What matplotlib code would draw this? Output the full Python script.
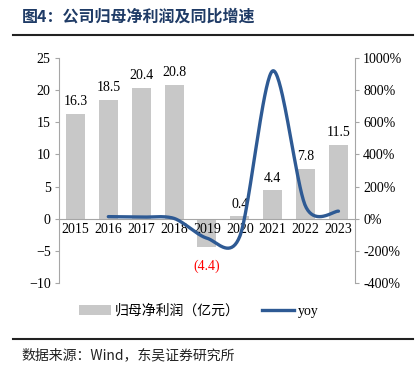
import matplotlib.pyplot as plt
import numpy as np
from matplotlib.lines import Line2D

plt.rcParams['font.family'] = ['Liberation Serif', 'Noto Sans CJK SC']

# 数据
years = ['2015', '2016', '2017', '2018', '2019', '2020', '2021', '2022', '2023']
profit = [16.3, 18.5, 20.4, 20.8, -4.4, 0.4, 4.4, 7.8, 11.5]
profit_labels = ['16.3', '18.5', '20.4', '20.8', '(4.4)', '0.4', '4.4', '7.8', '11.5']
yoy_years = ['2016', '2017', '2018', '2019', '2020', '2021', '2022', '2023']
yoy = [13, 10, 2, -121, -109, 920, 77, 47]

bar_color = '#C8C8C8'
line_color = '#2E5A94'
axis_gray = '#A6A6A6'
cjk = ['Noto Sans CJK SC', 'DejaVu Sans']


def smooth(xs, ys, n=40, k=0.145):
    # 类 Catmull-Rom 曲线，模拟 Excel 平滑线
    xs = np.asarray(xs, float)
    ys = np.asarray(ys, float)
    px = np.concatenate([[xs[0]], xs, [xs[-1]]])
    py = np.concatenate([[ys[0]], ys, [ys[-1]]])
    out_x, out_y = [], []
    t = np.linspace(0, 1, n)
    for i in range(1, len(px) - 2):
        p0, p1, p2, p3 = px[i - 1], px[i], px[i + 1], px[i + 2]
        q0, q1, q2, q3 = py[i - 1], py[i], py[i + 1], py[i + 2]
        c1x, c1y = p1 + (p2 - p0) * k, q1 + (q2 - q0) * k
        c2x, c2y = p2 - (p3 - p1) * k, q2 - (q3 - q1) * k
        bx = (1 - t) ** 3 * p1 + 3 * (1 - t) ** 2 * t * c1x + 3 * (1 - t) * t ** 2 * c2x + t ** 3 * p2
        by = (1 - t) ** 3 * q1 + 3 * (1 - t) ** 2 * t * c1y + 3 * (1 - t) * t ** 2 * c2y + t ** 3 * q2
        out_x.extend(bx)
        out_y.extend(by)
    return np.array(out_x), np.array(out_y)


fig = plt.figure(figsize=(4.2, 3.75), dpi=100)
ax = fig.add_axes([0.1405, 0.2453, 0.7045, 0.6])
ax2 = ax.twinx()

x = np.arange(len(years))
bars = ax.bar(x, profit, width=0.58, color=bar_color, zorder=1, label='归母净利润（亿元）')
ax.set_axisbelow(False)

for xi, v, lab in zip(x, profit, profit_labels):
    if v >= 0:
        ax.annotate(lab, (xi, v), xytext=(0, 4), textcoords='offset points',
                    ha='center', va='bottom', fontsize=10)
    else:
        ax.annotate(lab, (xi, 0), xytext=(0, -34), textcoords='offset points',
                    ha='center', va='center', fontsize=10, color='#FF0000')

ax.set_xlim(-0.5, len(years) - 0.5)
ax.set_ylim(-10, 25)
ax.set_yticks(range(-10, 26, 5))
ax.set_xticks(x)
ax.set_xticklabels(years, fontsize=10)
ax.tick_params(axis='x', length=0, pad=3)
ax.tick_params(axis='y', direction='out', length=3, color=axis_gray, labelsize=10, pad=3)
ax.spines['bottom'].set_position(('data', 0))
ax.spines['bottom'].set_color(axis_gray)
ax.spines['left'].set_color(axis_gray)
ax.spines['top'].set_visible(False)
ax.spines['right'].set_visible(False)

yx = [years.index(y) for y in yoy_years]
sx, sy = smooth(yx, yoy)
ax2.plot(sx, sy, color=line_color, lw=2.4, solid_capstyle='round', zorder=3)
ax2.set_ylim(-400, 1000)
ax2.set_yticks(range(-400, 1001, 200))
ax2.set_yticklabels([f'{v}%' for v in range(-400, 1001, 200)])
ax2.tick_params(axis='y', direction='out', length=3, color=axis_gray, labelsize=10, pad=3)
ax2.spines['right'].set_color(axis_gray)
for s in ['top', 'left', 'bottom']:
    ax2.spines[s].set_visible(False)

# 图例
handles = [bars, Line2D([], [], color=line_color, lw=2.4)]
leg = fig.legend(handles, ['归母净利润（亿元）', 'yoy'], loc='center', bbox_to_anchor=(0.474, 0.171),
                 ncol=2, frameon=False, handlelength=2.3, handletextpad=0.3, columnspacing=1.6,
                 prop={'family': ['Liberation Serif', 'Noto Sans CJK SC'], 'size': 10})

# 标题与来源
fig.text(0.052, 0.955, '图4：公司归母净利润及同比增速', fontsize=11.5, fontweight='bold',
         color='#1F3B66', family=cjk, va='center')
fig.add_artist(Line2D([0.031, 0.983], [0.907, 0.907], color='#222222', lw=1.5))
fig.add_artist(Line2D([0.031, 0.983], [0.096, 0.096], color='#222222', lw=1.5))
fig.text(0.052, 0.053, '数据来源：Wind，东吴证券研究所', fontsize=10,
         family=['Noto Sans CJK SC', 'Liberation Serif'], va='center', color='#222222')

plt.savefig('out.png', dpi=100)
